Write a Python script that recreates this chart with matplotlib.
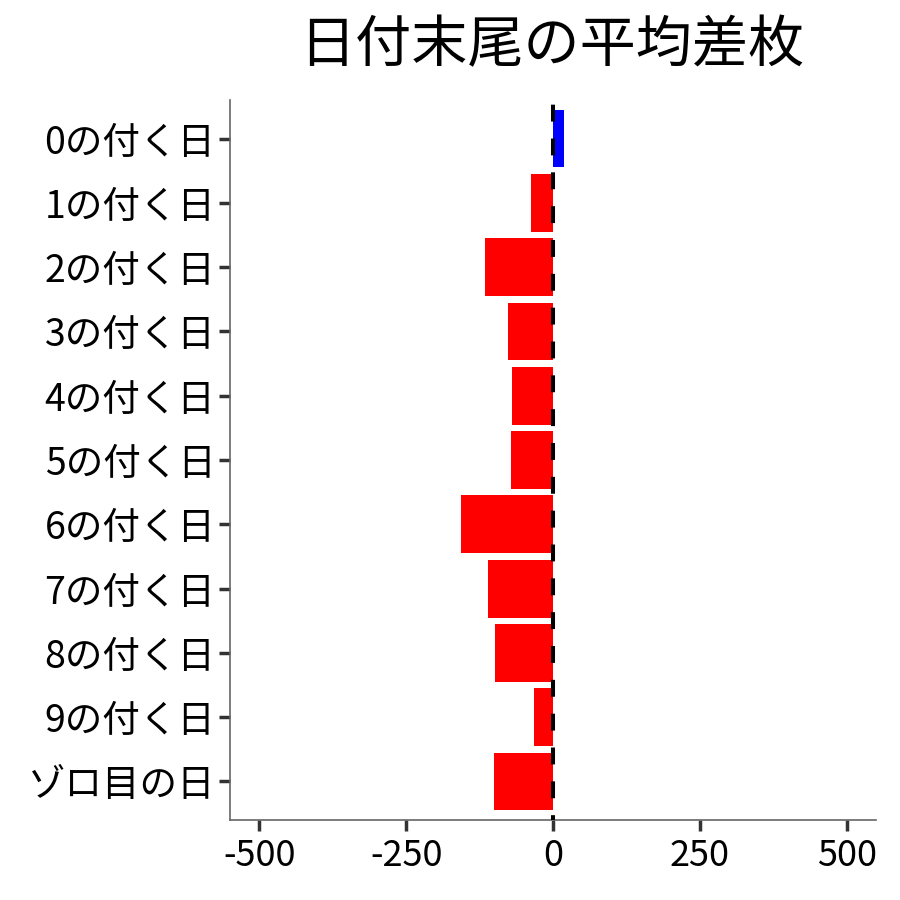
import matplotlib
matplotlib.use("Agg")
import matplotlib.pyplot as plt

plt.rcParams['font.family'] = ['Noto Sans CJK JP', 'DejaVu Sans']

categories = ["0の付く日", "1の付く日", "2の付く日", "3の付く日", "4の付く日",
              "5の付く日", "6の付く日", "7の付く日", "8の付く日", "9の付く日",
              "ゾロ目の日"]
values = [19, -37, -115, -76, -69, -71, -156, -110, -98, -32, -100]
x_ticks = [-500, -250, 0, 250, 500]
x_tick_labels = ["-500", "-250", "0", "250", "500"]
title = "日付末尾の平均差枚"

fig = plt.figure(figsize=(9, 9), dpi=100)
ax = fig.add_axes([230 / 900, 80 / 900, 646 / 900, 720 / 900])

colors = ["#0000FF" if v > 0 else "#FF0000" for v in values]
pos = list(range(len(categories)))
ax.barh(pos, values, height=0.9, color=colors, zorder=2)
ax.axvline(0, color="black", linestyle=(3, (4.2, 4.2)), linewidth=2.9, zorder=3)

ax.set_ylim(len(categories) - 1 + 0.6, -0.6)
ax.set_xlim(-550, 550)
ax.set_yticks(pos)
ax.set_yticklabels(categories, fontsize=27)
ax.set_xticks(x_ticks)
ax.set_xticklabels(x_tick_labels, fontsize=26)

for side in ["top", "right"]:
    ax.spines[side].set_visible(False)
for side in ["left", "bottom"]:
    ax.spines[side].set_color("#666666")
    ax.spines[side].set_linewidth(1.2)
ax.tick_params(axis="both", colors="#333333", length=8, width=2.5, labelcolor="black")
ax.tick_params(axis="y", pad=2.5)
ax.tick_params(axis="x", pad=5)

fig.text(552 / 900, 1 - 46 / 900, title, fontsize=40.4, ha="center", va="center")

fig.savefig("out.png", dpi=100, facecolor="white")
